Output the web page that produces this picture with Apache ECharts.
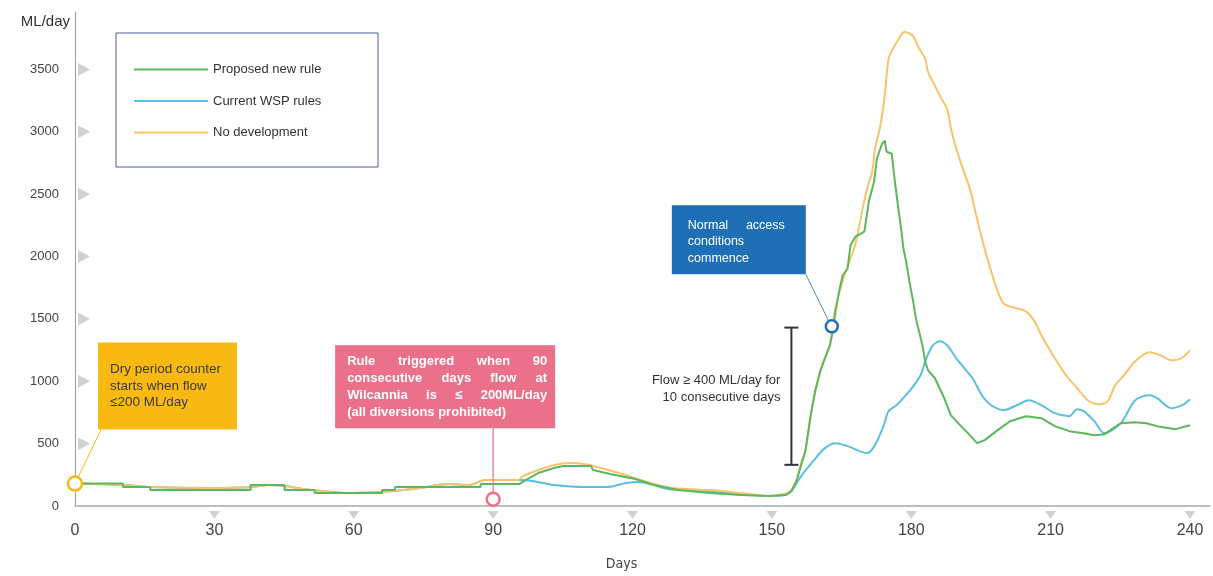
<!DOCTYPE html>
<html>
<head>
<meta charset="utf-8">
<script src="https://cdn.jsdelivr.net/npm/echarts@6/dist/echarts.min.js"></script>
<style>
html, body { margin: 0; padding: 0; background: #fff; }
#main { width: 1213px; height: 576px; }
</style>
</head>
<body>
<div id="main"></div>
<script>
// axis ticks
const yTicks = [500, 1000, 1500, 2000, 2500, 3000, 3500];
const xTicks = [30, 60, 90, 120, 150, 180, 210, 240];

// [day, ML/day]
const proposedRule = [
  [0, 180], [10.3, 180], [10.3, 152], [16.2, 152], [16.2, 128], [37.8, 128], [37.8, 168],
  [45.1, 168], [45.1, 128], [51.6, 128], [51.6, 104], [66.1, 104], [66.1, 128], [68.9, 128],
  [68.9, 152], [87.3, 152], [87.3, 176], [95.6, 176], [97, 208], [99.7, 264], [103.1, 304],
  [105.1, 320], [111.1, 320], [111.5, 288], [115.2, 256], [120.6, 216], [124.6, 168],
  [129.8, 128], [136.6, 104], [143.3, 88], [149.3, 80], [153, 88], [154.2, 120], [155.3, 200],
  [156.3, 328], [157.2, 440], [158.5, 760], [159.3, 920], [160.4, 1080], [161.4, 1184],
  [162.5, 1288], [163.1, 1400], [163.7, 1560], [164.6, 1744], [165.2, 1848], [166.3, 1904],
  [166.9, 2088], [168, 2160], [169.9, 2200], [170.9, 2448], [172, 2600], [172.6, 2784],
  [173.7, 2904], [174.3, 2928], [174.7, 2840], [175.8, 2824], [176.4, 2624], [177.3, 2360],
  [177.9, 2200], [178.3, 2064], [178.9, 1960], [179.6, 1800], [180.4, 1640], [181, 1504],
  [182.4, 1288], [183, 1160], [183.6, 1088], [185.1, 1024], [186.1, 944], [187.1, 864],
  [188.5, 728], [190.5, 648], [192.6, 568], [194.2, 504], [195.8, 528], [198.6, 608],
  [201.3, 680], [204.7, 720], [208, 704], [210.9, 640], [214, 600], [217.1, 584],
  [219.4, 568], [221.6, 576], [225.1, 664], [228.2, 672], [230.6, 664], [232.9, 640],
  [236.9, 616], [240, 648]
];
const currentRules = [
  [0, 180], [10.3, 168], [16.2, 152], [28.4, 144], [37.6, 150], [41.6, 168], [45.1, 160],
  [49.2, 136], [53.3, 120], [58.8, 104], [64.2, 108], [68.5, 120], [74.2, 144], [80.5, 176],
  [84.7, 168], [88.3, 208], [92.4, 208], [96.4, 208], [103.1, 168], [109.7, 152], [114.6, 152],
  [118.6, 184], [121.2, 192], [124.6, 168], [127.6, 136], [135.2, 120], [143.4, 96],
  [149.4, 80], [153, 90], [154.2, 120], [156.3, 240], [158.9, 360], [161.4, 464], [163.7, 504],
  [166.3, 480], [170.5, 424], [172.2, 488], [174.1, 648], [175.1, 760], [176.8, 808],
  [179.6, 920], [182, 1048], [183, 1160], [184.5, 1280], [186.1, 1320], [187.7, 1288],
  [189.7, 1184], [191.8, 1088], [193.2, 1024], [195.2, 888], [197.2, 808], [199.9, 768],
  [202.7, 808], [205.3, 848], [208, 808], [210.9, 744], [214, 720], [215.7, 776], [217.1, 760],
  [219.4, 680], [221.6, 584], [225.1, 664], [228.2, 848], [231.3, 888], [232.9, 864],
  [236, 784], [238.3, 808], [240, 856]
];
const noDevelopment = [
  [0, 180], [10.3, 168], [16.2, 152], [28.4, 144], [37.6, 150], [41.6, 168], [45.1, 160],
  [49.2, 136], [53.3, 120], [58.8, 104], [64.2, 108], [68.5, 120], [74.2, 144], [80.5, 176],
  [84.7, 168], [88.3, 208], [95.4, 208], [96.4, 240], [99.7, 288], [103.1, 328], [106.5, 344],
  [109.7, 336], [113.2, 304], [117.8, 256], [123.2, 192], [128.7, 144], [136.7, 128],
  [143.4, 104], [149.4, 80], [153, 100], [154.2, 130], [155.3, 210], [156.3, 340],
  [157.2, 440], [158.5, 760], [160.4, 1080], [162.5, 1300], [163.5, 1560], [165.6, 1848],
  [167.7, 2064], [168.4, 2168], [169.4, 2360], [170.5, 2544], [171.6, 2680], [172.2, 2864],
  [173.3, 3040], [174.2, 3264], [175.1, 3584], [175.8, 3648], [177.3, 3744], [178.5, 3800],
  [180.4, 3768], [181.4, 3688], [183, 3584], [183.6, 3480], [185.1, 3368], [186.5, 3264],
  [187.7, 3184], [188.7, 3000], [189.7, 2864], [191.1, 2704], [192.6, 2544], [193.8, 2360],
  [195.2, 2144], [197.2, 1880], [198.6, 1720], [199.9, 1624], [202.7, 1584], [204.7, 1560],
  [206.8, 1464], [208, 1368], [210.9, 1184], [213.3, 1048], [215.7, 944], [218, 848],
  [220.4, 816], [222.3, 840], [223.9, 968], [225.8, 1048], [228.2, 1160], [231.3, 1232],
  [233.6, 1208], [236, 1168], [238.1, 1184], [240, 1248]
];

// annotation anchors [day, ML/day]
const dryStart = [0, 180];
const ruleTrigger = [90, 55];
const normalAccess = [162.9, 1440];
const flowWindow = [154.2, 330, 1430]; // day, from, to

const GREEN = '#5cb85c', BLUE = '#5bc0e0', ORANGE = '#f7c46c';
const FONT = '"Liberation Sans", Arial, sans-serif';

const chart = echarts.init(document.getElementById('main'));

chart.setOption({
  animation: false,
  backgroundColor: '#fff',
  grid: { left: 75, right: 3, top: 12, bottom: 68 },
  legend: {
    data: ['Proposed new rule', 'Current WSP rules', 'No development'],
    orient: 'vertical',
    left: 134,
    top: 63,
    padding: 0,
    icon: 'path://M0,0 L72,0 L72,2 L0,2 Z',
    itemWidth: 74,
    itemHeight: 14,
    itemGap: 18.5,
    textStyle: { fontFamily: FONT, fontSize: 13, color: '#333' }
  },
  xAxis: {
    type: 'value',
    min: 0,
    max: 244.3,
    interval: 30,
    name: 'Days',
    nameLocation: 'middle',
    nameGap: 51,
    nameTextStyle: {
      fontFamily: '"Liberation Sans Narrow", "DejaVu Sans Condensed", sans-serif',
      fontSize: 14, color: '#444', padding: [0, 42, 0, 0]
    },
    axisLine: { show: true, onZero: false, lineStyle: { color: '#a8a8a8', width: 1.5 } },
    axisTick: { show: false },
    splitLine: { show: false },
    axisLabel: {
      margin: 17, fontSize: 16, color: '#444', fontFamily: FONT, showMaxLabel: false,
      formatter: v => (v % 30 === 0 ? v : '')
    }
  },
  yAxis: {
    type: 'value',
    min: 0,
    max: 3960,
    interval: 500,
    name: 'ML/day',
    nameLocation: 'end',
    nameGap: -10,
    nameTextStyle: {
      fontFamily: FONT, fontSize: 15, color: '#333',
      align: 'right', verticalAlign: 'middle', padding: [0, 5, 0, 0]
    },
    axisLine: { show: true, lineStyle: { color: '#999', width: 1 } },
    axisTick: { show: false },
    splitLine: { show: false },
    axisLabel: {
      margin: 16, fontSize: 13, color: '#444', fontFamily: FONT, showMaxLabel: false,
      formatter: v => (v % 500 === 0 ? v : '')
    }
  },
  series: [
    {
      name: 'Current WSP rules', type: 'line', data: currentRules,
      symbol: 'none', smooth: 0.3, z: 3,
      lineStyle: { color: BLUE, width: 2 }, itemStyle: { color: BLUE }
    },
    {
      name: 'No development', type: 'line', data: noDevelopment,
      symbol: 'none', smooth: 0.3, z: 4,
      lineStyle: { color: ORANGE, width: 2 }, itemStyle: { color: ORANGE }
    },
    {
      name: 'Proposed new rule', type: 'line', data: proposedRule,
      symbol: 'none', z: 5,
      lineStyle: { color: GREEN, width: 2 }, itemStyle: { color: GREEN }
    },
    // grey triangle tick marks
    {
      type: 'scatter', silent: true, clip: false, z: 1,
      symbol: 'triangle', symbolSize: [13, 12], symbolRotate: -90, symbolOffset: [9, 0],
      itemStyle: { color: '#c6c6c6' },
      data: yTicks.map(v => [0, v])
    },
    {
      type: 'scatter', silent: true, clip: false, z: 1,
      symbol: 'triangle', symbolSize: [11, 8], symbolRotate: 180, symbolOffset: [0, 9],
      itemStyle: { color: '#c6c6c6' },
      data: xTicks.map(v => [v, 0])
    }
  ]
});

// callouts, placed from the data anchors
const px = p => chart.convertToPixel({ gridIndex: 0 }, p);
const measure = document.createElement('canvas').getContext('2d');

function textBlock(lines, x, y, width, lineH, font, color, justify) {
  measure.font = font;
  const out = [];
  lines.forEach((line, i) => {
    const ty = y + i * lineH;
    const words = line.split(' ');
    if (!justify[i] || words.length < 2) {
      out.push({ type: 'text', x: x, y: ty, z: 60,
        style: { text: line, font: font, fill: color, align: 'left', verticalAlign: 'middle' } });
      return;
    }
    const used = words.reduce((s, w) => s + measure.measureText(w).width, 0);
    const gap = (width - used) / (words.length - 1);
    let cx = x;
    words.forEach(w => {
      out.push({ type: 'text', x: cx, y: ty, z: 60,
        style: { text: w, font: font, fill: color, align: 'left', verticalAlign: 'middle' } });
      cx += measure.measureText(w).width + gap;
    });
  });
  return out;
}

const circle = (p, r, color) => ({
  type: 'circle', z: 70, shape: { cx: p[0], cy: p[1], r: r },
  style: { fill: '#fff', stroke: color, lineWidth: 2.5 }
});
const seg = (x1, y1, x2, y2, color, w) => ({
  type: 'line', z: 55, shape: { x1: x1, y1: y1, x2: x2, y2: y2 },
  style: { stroke: color, lineWidth: w }
});

const g = [];

// legend frame
g.push({ type: 'rect', z: 50, shape: { x: 116, y: 33, width: 262, height: 134 },
  style: { fill: 'none', stroke: '#4d5d9c', lineWidth: 1 } });

// dry period counter
const pD = px(dryStart);
const boxD = { x: pD[0] + 23, y: pD[1] - 141, width: 139, height: 87 };
const YEL = '#f7b912';
g.push({ type: 'rect', z: 50, shape: boxD, style: { fill: YEL } });
g.push(...textBlock(['Dry period counter', 'starts when flow', '≤200 ML/day'],
  boxD.x + 12, boxD.y + 27, 120, 16.5, '13.5px "Liberation Sans"', '#3a3a3a', [false, false, false]));
g.push(seg(boxD.x + 3, boxD.y + boxD.height, pD[0] + 3, pD[1] - 6, YEL, 1));
g.push(circle(pD, 7, YEL));

// rule triggered
const PINK = '#ea7189';
const pR = px(ruleTrigger);
const boxR = { x: pR[0] - 158, y: pR[1] - 154, width: 220, height: 83 };
g.push({ type: 'rect', z: 50, shape: boxR, style: { fill: PINK } });
g.push(...textBlock(['Rule triggered when 90', 'consecutive days flow at',
  'Wilcannia is ≤ 200ML/day', '(all diversions prohibited)'],
  boxR.x + 12, boxR.y + 16, 200, 17.2, 'bold 13px "Liberation Sans"', '#fff', [true, true, true, false]));
g.push(seg(pR[0], boxR.y + boxR.height, pR[0], pR[1] - 6, PINK, 1.2));
g.push(circle(pR, 6.5, PINK));

// normal access conditions
const NAVY = '#1f6fb6';
const pN = px(normalAccess);
const boxN = { x: pN[0] - 160, y: pN[1] - 121, width: 134, height: 69 };
g.push({ type: 'rect', z: 50, shape: boxN, style: { fill: NAVY } });
g.push(...textBlock(['Normal access', 'conditions', 'commence'],
  boxN.x + 16, boxN.y + 20, 97, 16.5, '12.5px "Liberation Sans"', '#fff', [true, false, false]));
g.push(seg(boxN.x + boxN.width, boxN.y + boxN.height, pN[0] - 3, pN[1] - 5, '#5a86b8', 1));
g.push(circle(pN, 6, NAVY));

// 10 day window bracket
const pLo = px([flowWindow[0], flowWindow[1]]);
const pHi = px([flowWindow[0], flowWindow[2]]);
g.push(seg(pLo[0], pLo[1], pHi[0], pHi[1], '#333', 2));
g.push(seg(pLo[0] - 7, pLo[1], pLo[0] + 7, pLo[1], '#333', 2));
g.push(seg(pHi[0] - 7, pHi[1], pHi[0] + 7, pHi[1], '#333', 2));
const midY = (pLo[1] + pHi[1]) / 2;
['Flow ≥ 400 ML/day for', '10 consecutive days'].forEach((t, i) => {
  g.push({ type: 'text', z: 60, x: pLo[0] - 11, y: midY - 16 + i * 17,
    style: { text: t, font: '13px "Liberation Sans"', fill: '#333', align: 'right', verticalAlign: 'middle' } });
});

chart.setOption({ graphic: g });
</script>
</body>
</html>
